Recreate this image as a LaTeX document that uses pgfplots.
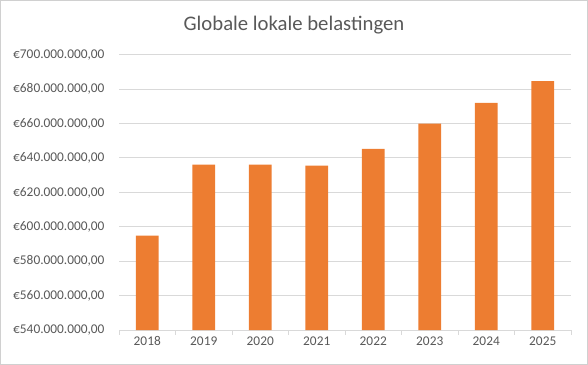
\documentclass[border=0pt]{standalone}
\usepackage{fontspec}
\setmainfont{Carlito}
\usepackage{pgfplots}
\pgfplotsset{compat=1.18}
\definecolor{barorange}{HTML}{ED7D31}
\definecolor{txtgray}{HTML}{595959}
\definecolor{gridgray}{HTML}{D9D9D9}
\definecolor{framegray}{HTML}{D0D0D0}
\begin{document}
\begin{tikzpicture}
\path[use as bounding box] (0,0) rectangle (588bp,365bp);
\draw[framegray, line width=1bp] (0.5bp,0.5bp) rectangle (587.5bp,364.5bp);
\node[txtgray, font=\fontsize{20.8}{24}\selectfont] at (294bp,340bp) {Globale lokale belastingen};
\begin{axis}[
  at={(119bp,35bp)}, anchor=south west,
  scale only axis,
  width=452bp, height=275.3bp,
  xmin=-0.5, xmax=7.5,
  ymin=540000000, ymax=700000000,
  ytick={540000000,560000000,580000000,600000000,620000000,640000000,660000000,680000000,700000000},
  scaled y ticks=false,
  yticklabel={€\pgfmathprintnumber[fixed, fixed zerofill, precision=2, 1000 sep={.}, use comma]{\tick}},
  /pgf/number format/assume math mode=true,
  xtick={0,...,7},
  xticklabels={2018,2019,2020,2021,2022,2023,2024,2025},
  minor xtick={-0.5,0.5,...,7.5},
  major tick length=0pt,
  minor tick length=4.5bp,
  tick align=outside,
  axis x line*=bottom,
  axis y line*=left,
  y axis line style={draw=none},
  ytick style={draw=none},
  x axis line style={gridgray, line width=0.9bp, -},
  minor x tick style={gridgray, line width=0.9bp},
  ymajorgrids,
  grid style={gridgray, line width=0.9bp},
  ticklabel style={txtgray, font=\fontsize{13.4}{15}\selectfont},
  yticklabel style={xshift=-11bp},
  xticklabel style={yshift=-3bp},
  ybar, bar width=22.7bp,
  clip=false,
]
\addplot[fill=barorange, draw=none] coordinates {
  (0,594800000) (1,636100000) (2,636100000) (3,635500000)
  (4,645200000) (5,660000000) (6,672000000) (7,684700000)
};
\end{axis}
\end{tikzpicture}
\end{document}
